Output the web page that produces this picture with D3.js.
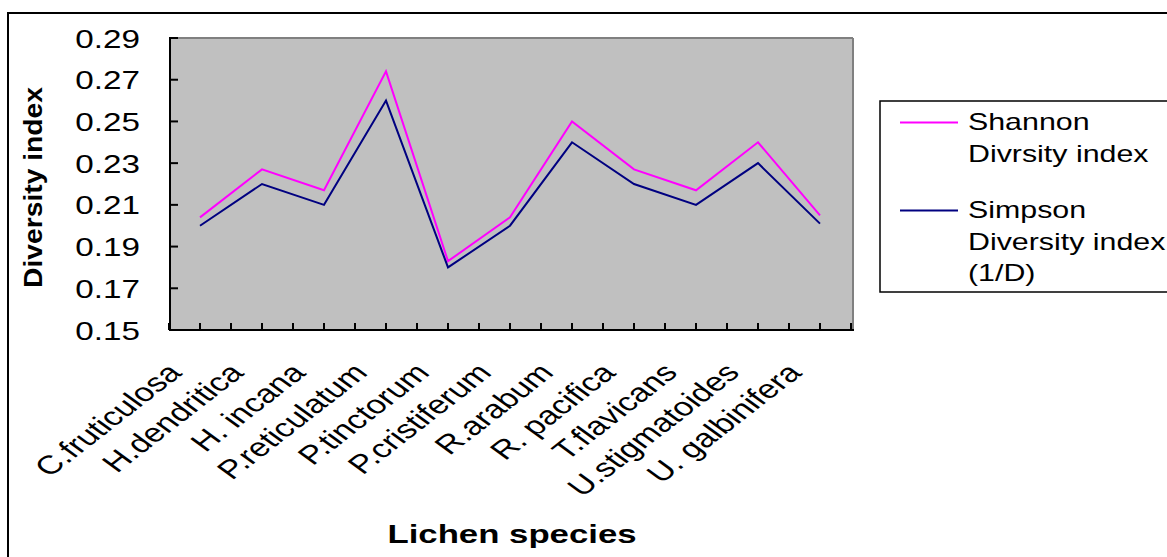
<!DOCTYPE html>
<html>
<head>
<meta charset="utf-8">
<script src="https://cdn.jsdelivr.net/npm/d3@7"></script>
<style>
  html, body { margin: 0; padding: 0; background: #fff; }
  svg { display: block; }
  text { font-family: "Liberation Sans", Arial, sans-serif; fill: #000; }
</style>
</head>
<body>
<svg id="chart" width="1167" height="557"></svg>
<script>
const categories = ["C.fruticulosa","H.dendritica","H. incana","P.reticulatum","P.tinctorum","P.cristiferum","R.arabum","R. pacifica","T.flavicans","U.stigmatoides","U. galbinifera"];
const shannon = [0.204,0.227,0.217,0.274,0.183,0.204,0.250,0.227,0.217,0.240,0.205];
const simpson = [0.200,0.220,0.210,0.260,0.180,0.200,0.240,0.220,0.210,0.230,0.201];
const yTicks = [0.15,0.17,0.19,0.21,0.23,0.25,0.27,0.29];
const seriesNames = [["Shannon","Divrsity index"],["Simpson","Diversity index","(1/D)"]];
const seriesColors = ["#FF00FF","#000080"];

const svg = d3.select("#chart");
const SX = 1.33;

// outer chart border
svg.append("rect").attr("x",8).attr("y",13).attr("width",1300).attr("height",700)
  .attr("fill","#fff").attr("stroke","#000").attr("stroke-width",2);

const L = 170, R = 853, T = 38, B = 330;
const x = d3.scaleBand().domain(categories).range([169, 851]);
const y = d3.scaleLinear().domain([0.15, 0.29]).range([B, T]);
const cx = c => x(c) + x.bandwidth()/2;

// plot area
svg.append("rect").attr("x",L).attr("y",T).attr("width",R-L).attr("height",B-T).attr("fill","#C0C0C0");
svg.append("line").attr("x1",L).attr("x2",R).attr("y1",T).attr("y2",T).attr("stroke","#808080").attr("stroke-width",2);
svg.append("line").attr("x1",R).attr("x2",R).attr("y1",T).attr("y2",B).attr("stroke","#808080").attr("stroke-width",2);

// y ticks (inside) and labels
yTicks.forEach(t => {
  svg.append("line").attr("x1",L).attr("x2",L+8).attr("y1",y(t)).attr("y2",y(t)).attr("stroke","#000").attr("stroke-width",2);
  svg.append("text").attr("transform",`translate(140,${y(t)+9.5}) scale(${SX},1)`)
    .attr("text-anchor","end").attr("font-size",25).text(t.toFixed(2));
});

// x ticks at band boundaries and centres
const xTickPos = [];
categories.forEach(c => { xTickPos.push(x(c)); xTickPos.push(cx(c)); });
xTickPos.push(x(categories[categories.length-1]) + x.bandwidth());
xTickPos.forEach(p => {
  svg.append("line").attr("x1",p).attr("x2",p).attr("y1",B).attr("y2",B-7).attr("stroke","#000").attr("stroke-width",2);
});

// axes lines
svg.append("line").attr("x1",L).attr("x2",L).attr("y1",T-1).attr("y2",B+1).attr("stroke","#000").attr("stroke-width",2);
svg.append("line").attr("x1",L-1).attr("x2",R+1).attr("y1",B).attr("y2",B).attr("stroke","#000").attr("stroke-width",2);

// series lines
const line = d3.line().x((d,i) => cx(categories[i])).y(d => y(d));
[shannon, simpson].forEach((s,k) => {
  svg.append("path").datum(s).attr("d",line).attr("fill","none")
    .attr("stroke",seriesColors[k]).attr("stroke-width",2).attr("stroke-linejoin","miter");
});

// x labels, rotated
categories.forEach(c => {
  svg.append("text").attr("transform",`translate(${cx(c)-17},374) scale(${SX},1) rotate(-46)`)
    .attr("text-anchor","end").attr("font-size",26).text(c);
});

// axis titles
svg.append("text").attr("transform",`translate(512,543) scale(1.39,1)`)
  .attr("text-anchor","middle").attr("font-size",25).attr("font-weight","bold").text("Lichen species");
svg.append("text").attr("transform",`translate(42,187.5) rotate(-90) scale(1.13,1)`)
  .attr("text-anchor","middle").attr("font-size",25).attr("font-weight","bold").text("Diversity index");

// legend
svg.append("rect").attr("x",880).attr("y",101).attr("width",400).attr("height",191)
  .attr("fill","#fff").attr("stroke","#000").attr("stroke-width",1.5);
const legendLineY = [122.5, 210.5];
const legendBase = [[130,161.7],[218.3,250,280.5]];
seriesNames.forEach((names,k) => {
  svg.append("line").attr("x1",900).attr("x2",958).attr("y1",legendLineY[k]).attr("y2",legendLineY[k])
    .attr("stroke",seriesColors[k]).attr("stroke-width",2);
  names.forEach((n,j) => {
    svg.append("text").attr("transform",`translate(968,${legendBase[k][j]}) scale(1.32,1)`)
      .attr("font-size",23).text(n);
  });
});
</script>
</body>
</html>
